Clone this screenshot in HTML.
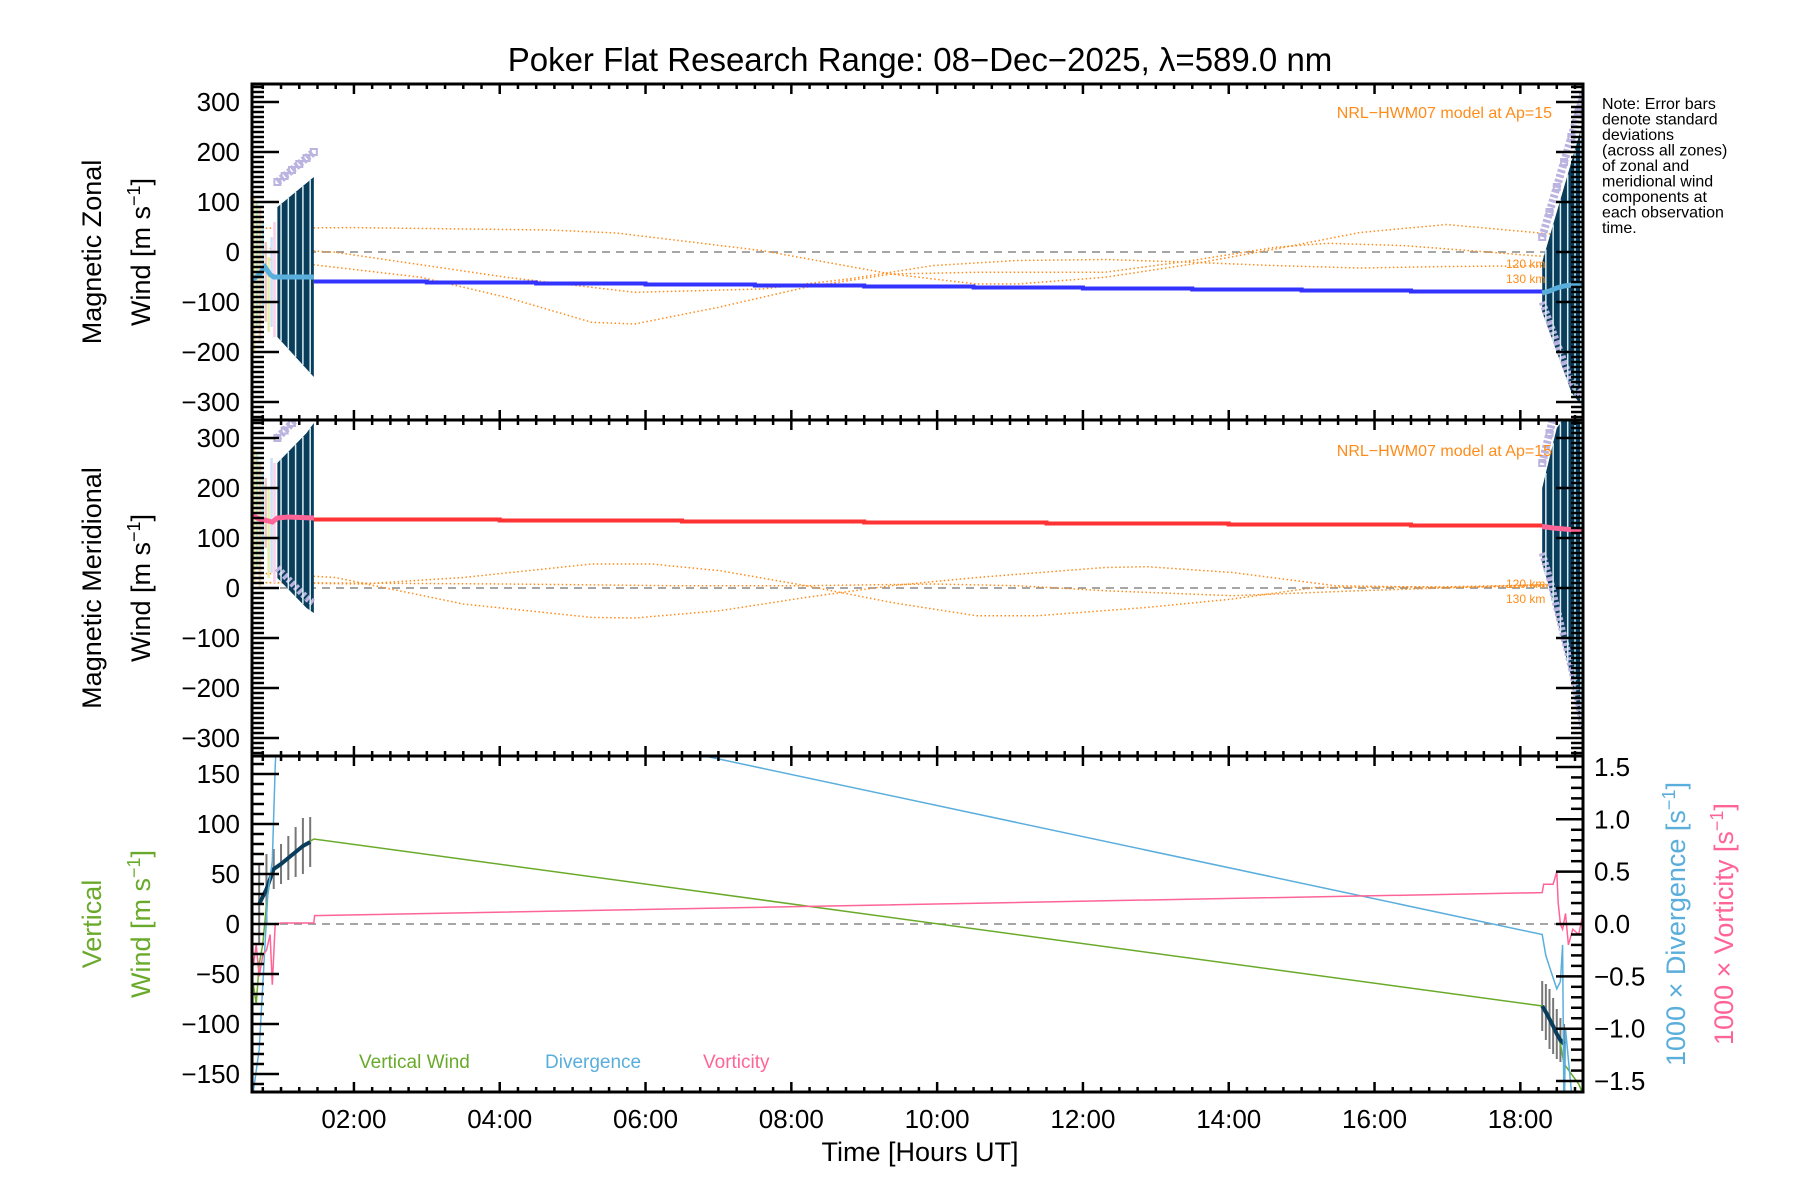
<!DOCTYPE html>
<html><head><meta charset="utf-8"><style>
html,body{margin:0;padding:0;background:#fff;}
svg{display:block;font-family:"Liberation Sans",sans-serif;}
</style></head><body>
<svg id="chart" width="1800" height="1200" viewBox="0 0 1800 1200" xmlns="http://www.w3.org/2000/svg">
<defs>
<clipPath id="c1"><rect x="252" y="84" width="1331" height="336"/></clipPath>
<clipPath id="c2"><rect x="252" y="420" width="1331" height="336"/></clipPath>
<clipPath id="c3"><rect x="252" y="756" width="1331" height="336"/></clipPath>
</defs>
<text x="920" y="71" font-size="33" text-anchor="middle">Poker Flat Research Range: 08−Dec−2025, λ=589.0 nm</text>
<g font-size="16" fill="#000">
<text x="1602" y="109">Note: Error bars</text>
<text x="1602" y="124.5">denote standard</text>
<text x="1602" y="140">deviations</text>
<text x="1602" y="155.5">(across all zones)</text>
<text x="1602" y="171">of zonal and</text>
<text x="1602" y="186.5">meridional wind</text>
<text x="1602" y="202">components at</text>
<text x="1602" y="217.5">each observation</text>
<text x="1602" y="233">time.</text>
</g>
<g id="p1" clip-path="url(#c1)"></g>
<g id="p2" clip-path="url(#c2)"></g>
<g id="p3" clip-path="url(#c3)"></g>
<g id="axes"></g>
<text transform="translate(101,252) rotate(-90)" font-size="27" text-anchor="middle">Magnetic Zonal</text>
<text transform="translate(150,252) rotate(-90)" font-size="27" text-anchor="middle">Wind [m s<tspan dy="-10" font-size="18">−1</tspan><tspan dy="10">]</tspan></text>
<text transform="translate(101,588) rotate(-90)" font-size="27" text-anchor="middle">Magnetic Meridional</text>
<text transform="translate(150,588) rotate(-90)" font-size="27" text-anchor="middle">Wind [m s<tspan dy="-10" font-size="18">−1</tspan><tspan dy="10">]</tspan></text>
<text transform="translate(101,924) rotate(-90)" font-size="27" fill="#6aaa2a" text-anchor="middle">Vertical</text>
<text transform="translate(150,924) rotate(-90)" font-size="27" fill="#6aaa2a" text-anchor="middle">Wind [m s<tspan dy="-10" font-size="18">−1</tspan><tspan dy="10">]</tspan></text>
<text transform="translate(1685,924) rotate(-90)" font-size="27" fill="#5aaedc" text-anchor="middle">1000 × Divergence [s<tspan dy="-10" font-size="18">−1</tspan><tspan dy="10">]</tspan></text>
<text transform="translate(1733,924) rotate(-90)" font-size="27" fill="#ff6496" text-anchor="middle">1000 × Vorticity [s<tspan dy="-10" font-size="18">−1</tspan><tspan dy="10">]</tspan></text>
<text x="920" y="1161" font-size="27" text-anchor="middle">Time [Hours UT]</text>
<text x="1552" y="118" font-size="16" fill="#ff8c1a" text-anchor="end">NRL−HWM07 model at Ap=15</text>
<text x="1552" y="456" font-size="16" fill="#ff8c1a" text-anchor="end">NRL−HWM07 model at Ap=15</text>
<g font-size="12" fill="#ff8c1a">
<text x="1506" y="268">120 km</text>
<text x="1506" y="283">130 km</text>
<text x="1506" y="588">120 km</text>
<text x="1506" y="603">130 km</text>
</g>
<g font-size="19">
<text x="359" y="1068" fill="#6aaa2a">Vertical Wind</text>
<text x="545" y="1068" fill="#5aaedc">Divergence</text>
<text x="703" y="1068" fill="#ff6496">Vorticity</text>
</g>
</svg>
<script>
// ---- data ----
const xTickHours = [2,4,6,8,10,12,14,16,18];
const xTickLabels = ["02:00","04:00","06:00","08:00","10:00","12:00","14:00","16:00","18:00"];
const windTicks = [-300,-200,-100,0,100,200,300];
const vertTicks = [-150,-100,-50,0,50,100,150];
const divTicks = [-1.5,-1.0,-0.5,0.0,0.5,1.0,1.5];
const divTickLabels = ["−1.5","−1.0","−0.5","0.0","0.5","1.0","1.5"];

const modelZA_t = [0.57,1.98,4.68,5.6,7.6,9.37,10.54,11.1,12.3,13.5,14.64,15.8,16.99,18.16,18.86];
const modelZA_v = [47.5,48.8,44,38,2.8,-44,-64,-64,-50.6,-24,6,39,55,39.5,30];
const modelZB_t = [0.57,1.75,4.09,5.85,7.6,8.78,9.95,11.1,12.3,13.5,14.6,15.8,17,18.86];
const modelZB_v = [9.4,-0.6,-50.6,-80.6,-74,-54,-27,-17,-15,-20.6,-27,-32,-29,-27];
const modelZC_t = [0.57,2.92,4.09,5.26,5.85,7,8.2,9.37,10.54,12.3,13.5,14.64,15.35,16.4,17.6,18.16,18.86];
const modelZC_v = [-10.6,-50.6,-90.6,-140.6,-144,-110.6,-70.6,-44,-40.6,-40.6,-17,9.4,17.4,12.8,-0.6,-7.2,-12];

const modelMD_t = [0.57,2.1,3.5,5.26,6.08,7.02,8.2,9.37,10.54,11.36,12.88,14.05,15.2,16.99,18.86];
const modelMD_v = [11,8,21,48,48,34.6,4.6,-28.8,-55.5,-55.5,-38.8,-22,1.2,2.5,8];
const modelME_t = [0.57,1.74,3.5,5.26,5.85,7.02,8.2,9.37,10.54,12.3,12.88,14.05,15.46,16.99,18.86];
const modelME_v = [31,21,-32,-58.8,-60,-45.4,-18.8,4.6,21,41,42.6,31,4.6,1.2,4.6];
const modelMF_t = [0.57,4.09,6.4,8.2,9.95,11.1,12.3,14.05,15.8,18.86];
const modelMF_v = [11,8,4.6,4.6,8,4.6,-5.4,-15.4,-5.4,9.3];

const zonalStep_t = [1.45,3.0,4.5,6.0,7.5,9.0,10.5,12.0,13.5,15.0,16.5,18.3];
const zonalStep_v = [-59,-61,-63,-65,-67,-69,-71,-73,-75,-77,-79,-82];
const zonalEarly_t = [0.61,0.7,0.78,0.85,0.9,1.0,1.2,1.45];
const zonalEarly_v = [-55,-45,-30,-45,-50,-50,-50,-50];
const zonalLate_t = [18.3,18.4,18.5,18.6,18.7,18.86];
const zonalLate_v = [-82,-78,-72,-68,-66,-65];

const merStep_t = [1.45,4.0,6.5,9.0,11.5,14.0,16.5,18.3];
const merStep_v = [137,135,133,131,129,127,125,123];
const merEarly_t = [0.61,0.7,0.8,0.88,0.95,1.1,1.45];
const merEarly_v = [145,138,135,132,140,142,140];
const merLate_t = [18.3,18.45,18.6,18.75,18.86];
const merLate_v = [123,120,118,116,116];

// error bars: times, tops, bottoms
const errZE_t = [0.95,1.05,1.15,1.25,1.35,1.45];
const errZE_top = [90,102,114,126,138,150];
const errZE_bot = [-170,-186,-202,-218,-234,-250];
const errZL_t = [18.3,18.4,18.5,18.6,18.7,18.8,18.86];
const errZL_top = [-20,30,80,130,180,230,260];
const errZL_bot = [-120,-160,-200,-240,-280,-300,-310];
const errME_t = [0.95,1.05,1.15,1.25,1.35,1.45];
const errME_top = [250,265,280,295,310,330];
const errME_bot = [20,5,-10,-25,-40,-50];
const errML_t = [18.3,18.4,18.5,18.6,18.7,18.8,18.86];
const errML_top = [200,260,320,340,340,340,340];
const errML_bot = [50,0,-60,-120,-180,-250,-300];
// pale early bars (zone spread before 0.95h)
const paleZ_t = [0.63,0.67,0.71,0.75,0.79,0.83,0.87,0.91];
const paleZ_top = [110,100,90,60,20,-10,30,60];
const paleZ_bot = [-200,-150,-180,-120,-140,-160,-150,-170];
const paleM_t = [0.63,0.67,0.71,0.75,0.79,0.83,0.87,0.91];
const paleM_top = [280,270,250,230,220,200,260,250];
const paleM_bot = [10,40,0,60,80,20,30,10];
const paleColors = ["#f8e8a0","#c8f0c8","#fcd8b0","#b8e8f0","#f0c8c8","#e8f0a8","#d0e0f8","#f8d0e8"];

const vwind_t = [0.62,0.66,0.7,0.75,0.8,0.85,0.9,1.0,1.1,1.2,1.3,1.45,18.3,18.4,18.5,18.55,18.6,18.7,18.8,18.86];
const vwind_v = [-60,-80,-40,-20,20,45,55,60,66,72,78,85,-82,-95,-110,-120,-140,-150,-160,-170];
const vwErr_t = [0.7,0.8,0.9,1.0,1.1,1.2,1.3,1.4,18.3,18.35,18.4,18.45,18.5,18.55,18.6];
const vwErr_v = [20,35,55,60,66,72,78,82,-82,-88,-95,-102,-110,-116,-120];
const vwErr_sd = [40,35,20,20,22,25,28,25,25,28,30,28,25,22,20];

const div_t = [0.62,0.7,0.78,0.82,0.88,0.92,0.95,1.45,18.3,18.35,18.42,18.5,18.55,18.58,18.6,18.62,18.7,18.86];
const div_v = [-1.6,-1.2,-0.2,0.3,0.6,1.5,2.0,2.4,-0.1,-0.3,-0.45,-0.62,-0.55,-0.2,-2.0,-1.0,-1.6,-1.6];
const vort_t = [0.62,0.66,0.7,0.75,0.8,0.85,0.88,0.92,0.95,1.0,1.45,1.46,18.3,18.32,18.45,18.5,18.52,18.55,18.58,18.62,18.66,18.72,18.8,18.86];
const vort_v = [-0.4,-0.2,-0.5,-0.3,-0.25,-0.1,-0.58,0.0,0.0,0.01,0.01,0.08,0.3,0.38,0.38,0.5,0.2,0.0,-0.05,0.1,-0.2,-0.05,-0.1,0.1];

// ---- scales ----
const X = h => 252.6 + (h - 0.61) * 72.9;
const Y1 = v => 252 - v * 0.5;
const Y2 = v => 588 - v * 0.5;
const Y3 = v => 924 - v * 1.0;
const YR = v => 924 - v * 104.7;
const NS = "http://www.w3.org/2000/svg";
function mk(tag, attrs, parent){const e=document.createElementNS(NS,tag);for(const k in attrs)e.setAttribute(k,attrs[k]);parent.appendChild(e);return e;}
function pts(ts, vs, yf){return ts.map((t,i)=>X(t).toFixed(1)+","+yf(vs[i]).toFixed(1)).join(" ");}
function stepPts(ts, vs, yf){let s=[];for(let i=0;i<ts.length-1;i++){s.push(X(ts[i])+","+yf(vs[i]));s.push(X(ts[i+1])+","+yf(vs[i]));}return s.join(" ");}
const p1=document.getElementById('p1'),p2=document.getElementById('p2'),p3=document.getElementById('p3'),ax=document.getElementById('axes');

function errBand(g, ts, tops, bots, yf, name, lowerMarkers){
  const poly = ts.map((t,i)=>X(t)+","+yf(tops[i])).concat(ts.slice().reverse().map((t,j)=>X(t)+","+yf(bots[ts.length-1-j]))).join(" ");
  const e=mk('polygon',{points:poly,fill:'#0a3d5c'},g);
  
  
  ts.forEach((t,i)=>{
    const a=mk('rect',{x:X(t)-3,y:yf(tops[i]+50)-3,width:6,height:6,fill:'none',stroke:'#bcb4e0','stroke-width':2},g);
    
    
    if(i<ts.length-1){
      const l=mk('line',{x1:X(t),y1:yf(tops[i]+50),x2:X(ts[i+1]),y2:yf(tops[i+1]+50),stroke:'#bcb4e0','stroke-width':8,'stroke-dasharray':'3 2'},g);
      
      
      if(lowerMarkers){
        const l2=mk('line',{x1:X(t),y1:yf(bots[i]+20),x2:X(ts[i+1]),y2:yf(bots[i+1]+20),stroke:'#bcb4e0','stroke-width':7,'stroke-dasharray':'3 2'},g);
        
        
      }
    }
  });
  for(let i=0;i<ts.length-1;i++){
    const xm=(X(ts[i])+X(ts[i+1]))/2;
    const s=mk('line',{x1:xm,y1:yf((tops[i]+tops[i+1])/2),x2:xm,y2:yf((bots[i]+bots[i+1])/2),stroke:'#d8eef0','stroke-width':1.5},g);
    
    
  }
}
function paleBars(g, ts, tops, bots, yf, name){
  ts.forEach((t,i)=>{
    const b=mk('line',{x1:X(t),x2:X(t),y1:yf(tops[i]),y2:yf(bots[i]),stroke:paleColors[i%paleColors.length],'stroke-width':2.5},g);
    
    
  });
}

function panelBase(g, yf, name){
  const z=mk('line',{x1:252,x2:1583,y1:yf(0),y2:yf(0),stroke:'#888','stroke-width':1.5,'stroke-dasharray':'8 6'},g);
  
  
}
panelBase(p1,Y1,'zonal');panelBase(p2,Y2,'meridional');panelBase(p3,Y3,'vertical');

function model(g, ts, vs, yf, name){
  const e=mk('polyline',{points:pts(ts,vs,yf),fill:'none',stroke:'#ff8c1a','stroke-width':1.5,'stroke-dasharray':'1.5 2.5'},g);
  
  
}
model(p1,modelZA_t,modelZA_v,Y1,'zonal-model-a');model(p1,modelZB_t,modelZB_v,Y1,'zonal-model-120km');model(p1,modelZC_t,modelZC_v,Y1,'zonal-model-130km');
model(p2,modelMD_t,modelMD_v,Y2,'meridional-model-a');model(p2,modelME_t,modelME_v,Y2,'meridional-model-120km');model(p2,modelMF_t,modelMF_v,Y2,'meridional-model-130km');

paleBars(p1,paleZ_t,paleZ_top,paleZ_bot,Y1,'zonal-pale-bar');
paleBars(p2,paleM_t,paleM_top,paleM_bot,Y2,'meridional-pale-bar');
errBand(p1,errZE_t,errZE_top,errZE_bot,Y1,'zonal-error-early',false);
errBand(p1,errZL_t,errZL_top,errZL_bot,Y1,'zonal-error-late',true);
errBand(p2,errME_t,errME_top,errME_bot,Y2,'meridional-error-early',true);
errBand(p2,errML_t,errML_top,errML_bot,Y2,'meridional-error-late',true);

let e;
e=mk('polyline',{points:stepPts(zonalStep_t,zonalStep_v,Y1),fill:'none',stroke:'#3333ff','stroke-width':4},p1);


e=mk('polyline',{points:pts(zonalEarly_t,zonalEarly_v,Y1),fill:'none',stroke:'#5aaedc','stroke-width':5},p1);


e=mk('polyline',{points:pts(zonalLate_t,zonalLate_v,Y1),fill:'none',stroke:'#5aaedc','stroke-width':5},p1);


e=mk('polyline',{points:stepPts(merStep_t,merStep_v,Y2),fill:'none',stroke:'#ff3333','stroke-width':4},p2);


e=mk('polyline',{points:pts(merEarly_t,merEarly_v,Y2),fill:'none',stroke:'#ff6496','stroke-width':5},p2);


e=mk('polyline',{points:pts(merLate_t,merLate_v,Y2),fill:'none',stroke:'#ff6496','stroke-width':5},p2);



// panel 3
vwErr_t.forEach((t,i)=>{
  const b=mk('line',{x1:X(t),x2:X(t),y1:Y3(vwErr_v[i]+vwErr_sd[i]),y2:Y3(vwErr_v[i]-vwErr_sd[i]),stroke:'#777','stroke-width':2},p3);
  
  
});
e=mk('polyline',{points:pts(vwind_t,vwind_v,Y3),fill:'none',stroke:'#6aaa2a','stroke-width':1.5},p3);


e=mk('polyline',{points:pts(vwErr_t.slice(0,8),vwErr_v.slice(0,8),Y3),fill:'none',stroke:'#0a3d5c','stroke-width':4},p3);


e=mk('polyline',{points:pts(vwErr_t.slice(8),vwErr_v.slice(8),Y3),fill:'none',stroke:'#0a3d5c','stroke-width':4},p3);


e=mk('polyline',{points:pts(div_t,div_v,YR),fill:'none',stroke:'#5aaedc','stroke-width':1.5},p3);


e=mk('polyline',{points:pts(vort_t,vort_v,YR),fill:'none',stroke:'#ff6496','stroke-width':1.5},p3);



// ---- axes ----
function L(x1,y1,x2,y2,w,name){const l=mk('line',{x1:x1,y1:y1,x2:x2,y2:y2,stroke:'#000','stroke-width':w},ax);

}
const panels=[[84,420],[420,756],[756,1092]];
panels.forEach((p,pi)=>{
  const r=mk('rect',{x:252,y:p[0],width:1331,height:p[1]-p[0],fill:'none',stroke:'#000','stroke-width':3},ax);
  
  
  for(let m=0;m<=19*4;m++){
    const h=0.5+m*0.25; if(h<0.61||h>18.86) continue;
    const major = Math.abs(h-Math.round(h))<1e-6 && Math.round(h)%2===0;
    const len = major?10:5;
    L(X(h),p[0],X(h),p[0]+len,2.5,'x-tick');
    L(X(h),p[1],X(h),p[1]-len,2.5,'x-tick');
  }
});
[[Y1,84,420],[Y2,420,756]].forEach(([yf,t,b])=>{
  for(let v=-330;v<=330;v+=10){
    const y=yf(v); if(y<t+2||y>b-2) continue;
    const len = v%100===0?27:12;
    L(252,y,252+len,y,2.5,'y-tick');
    L(1583,y,1583-len,y,2.5,'y-tick');
  }
  windTicks.forEach(v=>{
    const tx=mk('text',{x:240,y:yf(v)+9,'font-size':26,'text-anchor':'end'},ax);
    tx.textContent=v<0?'−'+Math.abs(v):String(v);
    
    
  });
});
for(let v=-160;v<=160;v+=10){
  const len=v%50===0?27:12;
  L(252,Y3(v),252+len,Y3(v),2.5,'y-tick');
}
vertTicks.forEach(v=>{
  const tx=mk('text',{x:240,y:Y3(v)+9,'font-size':26,'text-anchor':'end'},ax);
  tx.textContent=v<0?'−'+Math.abs(v):String(v);
  
  
});
for(let k=-15;k<=15;k++){
  const v=k/10, len=(k%5===0)?27:12;
  L(1583,YR(v),1583-len,YR(v),2.5,'right-y-tick');
}
divTicks.forEach((v,i)=>{
  const tx=mk('text',{x:1594,y:YR(v)+9,'font-size':26},ax);
  tx.textContent=divTickLabels[i];
  
  
});
xTickHours.forEach((h,i)=>{
  const tx=mk('text',{x:X(h),y:1128,'font-size':26,'text-anchor':'middle'},ax);
  tx.textContent=xTickLabels[i];
  
  
});
</script>
</body></html>
